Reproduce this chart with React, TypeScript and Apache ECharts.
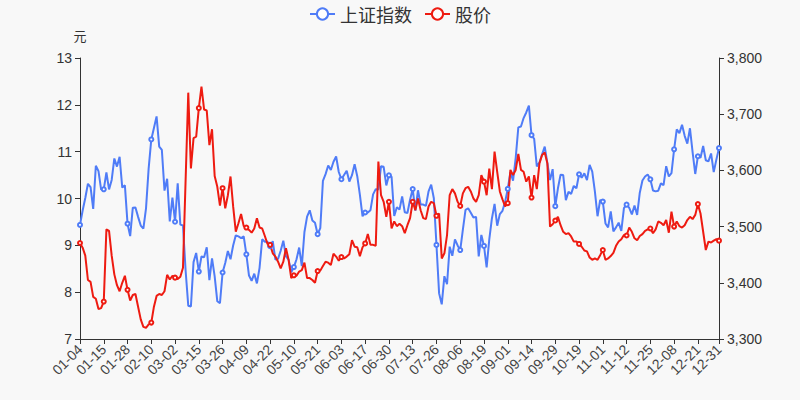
import React, { useEffect, useRef } from "react";
import * as echarts from "echarts";

const dates = [
  '01-04','01-05','01-06','01-07','01-08','01-11','01-12','01-13','01-14','01-15','01-18','01-19','01-20','01-21','01-22','01-25','01-26','01-27','01-28','01-29',
  '02-01','02-02','02-03','02-04','02-05','02-08','02-09','02-10','02-18','02-19','02-22','02-23','02-24','02-25','02-26',
  '03-01','03-02','03-03','03-04','03-05','03-08','03-09','03-10','03-11','03-12','03-15','03-16','03-17','03-18','03-19','03-22','03-23','03-24','03-25','03-26','03-29','03-30','03-31',
  '04-01','04-02','04-06','04-07','04-08','04-09','04-12','04-13','04-14','04-15','04-16','04-19','04-20','04-21','04-22','04-23','04-26','04-27','04-28','04-29','04-30',
  '05-06','05-07','05-10','05-11','05-12','05-13','05-14','05-17','05-18','05-19','05-20','05-21','05-24','05-25','05-26','05-27','05-28','05-31',
  '06-01','06-02','06-03','06-04','06-07','06-08','06-09','06-10','06-11','06-15','06-16','06-17','06-18','06-21','06-22','06-23','06-24','06-25','06-28','06-29','06-30',
  '07-01','07-02','07-05','07-06','07-07','07-08','07-09','07-12','07-13','07-14','07-15','07-16','07-19','07-20','07-21','07-22','07-23','07-26','07-27','07-28','07-29','07-30',
  '08-02','08-03','08-04','08-05','08-06','08-09','08-10','08-11','08-12','08-13','08-16','08-17','08-18','08-19','08-20','08-23','08-24','08-25','08-26','08-27','08-30','08-31',
  '09-01','09-02','09-03','09-06','09-07','09-08','09-09','09-10','09-13','09-14','09-15','09-16','09-17','09-22','09-23','09-24','09-27','09-28','09-29','09-30',
  '10-08','10-11','10-12','10-13','10-14','10-15','10-18','10-19','10-20','10-21','10-22','10-25','10-26','10-27','10-28','10-29',
  '11-01','11-02','11-03','11-04','11-05','11-08','11-09','11-10','11-11','11-12','11-15','11-16','11-17','11-18','11-19','11-22','11-23','11-24','11-25','11-26','11-29','11-30',
  '12-01','12-02','12-03','12-06','12-07','12-08','12-09','12-10','12-13','12-14','12-15','12-16','12-17','12-20','12-21','12-22','12-23','12-24','12-27','12-28','12-29','12-30','12-31'
];

const indexValues = [
  3502.96,3528.68,3550.88,3576.21,3570.11,3531.50,3608.34,3598.65,3565.90,3566.38,3596.22,3566.12,3583.09,3621.26,3606.75,3624.24,3569.43,3573.34,3505.18,3483.07,
  3533.68,3533.93,3517.31,3501.86,3496.33,3532.44,3603.49,3655.09,3675.36,3696.17,3642.44,3636.36,3564.08,3585.05,3509.08,
  3551.40,3508.59,3576.90,3503.49,3501.99,3421.41,3359.29,3357.74,3436.83,3453.08,3419.95,3446.73,3445.55,3463.07,3404.66,3443.44,3411.51,3367.06,3363.59,3418.33,3435.30,3456.68,3441.91,
  3466.33,3484.39,3482.48,3479.63,3482.55,3450.68,3412.95,3403.56,3416.15,3398.99,3426.62,3477.55,3472.94,3472.93,3465.11,3474.17,3441.17,3442.61,3457.07,3474.90,3446.86,
  3441.28,3418.87,3427.99,3441.85,3462.75,3429.54,3490.38,3517.62,3529.01,3510.96,3506.94,3486.56,3497.28,3581.34,3593.36,3608.85,3600.78,3615.48,
  3624.71,3597.14,3584.22,3591.84,3599.54,3580.11,3591.40,3610.86,3589.75,3556.56,3518.33,3525.10,3525.10,3529.18,3557.41,3566.65,3566.22,3607.56,3606.37,3573.18,3591.20,
  3588.78,3518.76,3534.32,3530.26,3553.72,3525.50,3524.09,3547.84,3566.73,3528.50,3564.59,3539.30,3539.12,3536.79,3562.70,3574.73,3550.40,3467.44,3381.18,3361.59,3411.72,3397.36,
  3464.29,3447.99,3477.22,3466.56,3458.23,3494.63,3529.93,3532.62,3524.74,3516.30,3517.34,3446.98,3485.29,3465.55,3427.33,3477.13,3514.47,3540.38,3501.66,3522.16,3528.15,3543.94,
  3567.10,3597.04,3581.73,3621.86,3676.59,3678.10,3693.13,3703.11,3715.37,3662.60,3656.22,3607.09,3613.97,3628.49,3642.22,3613.07,3582.83,3602.22,3536.29,3568.17,
  3592.17,3591.71,3546.94,3561.76,3558.28,3572.37,3568.14,3593.15,3587.00,3594.78,3582.60,3609.86,3597.64,3562.31,3518.42,3547.34,
  3544.48,3505.63,3498.54,3526.87,3491.57,3498.63,3507.00,3492.46,3532.79,3539.10,3533.30,3521.79,3537.37,3520.71,3560.37,3582.08,3589.09,3592.70,3584.18,3564.09,3562.70,3563.89,
  3576.89,3573.84,3607.43,3589.31,3595.09,3637.57,3673.04,3666.35,3681.08,3661.53,3647.63,3675.02,3632.36,3593.60,3625.13,3622.62,3643.34,3618.05,3615.97,3630.11,3597.00,3619.19,3639.78
];

const priceValues = [
  9.05,8.95,8.78,8.26,8.22,7.90,7.86,7.64,7.66,7.80,9.34,9.31,8.78,8.38,8.15,8.02,8.20,8.35,8.05,7.82,
  7.94,7.96,7.69,7.42,7.26,7.24,7.31,7.35,7.69,7.92,7.96,7.94,8.02,8.37,8.27,8.35,8.31,8.28,8.33,8.52,
  10.40,12.26,10.64,11.29,11.32,11.93,12.39,11.90,11.88,11.14,11.48,10.48,10.25,9.85,10.22,9.79,10.07,10.47,9.83,9.29,
  9.47,9.67,9.41,9.38,9.33,9.27,9.36,9.58,9.38,9.36,9.20,9.03,9.01,8.83,8.76,8.65,8.51,8.65,8.94,8.69,
  8.30,8.36,8.35,8.44,8.47,8.63,8.30,8.30,8.26,8.20,8.45,8.46,8.56,8.65,8.63,8.58,8.82,8.76,8.67,8.75,
  8.72,8.76,8.81,9.11,8.97,8.96,8.77,8.96,9.04,9.24,9.01,9.01,8.99,10.79,10.07,9.93,9.61,9.93,9.36,9.51,
  9.41,9.46,9.41,9.26,9.43,9.58,9.93,9.75,10.00,9.75,9.58,9.56,9.83,9.93,9.90,9.63,9.68,8.72,8.83,9.22,
  10.07,10.20,10.11,9.93,9.84,10.11,10.22,10.25,10.15,10.00,9.93,10.07,10.50,10.36,10.07,10.64,10.20,11.00,10.57,10.15,
  9.98,9.83,9.90,10.61,10.50,10.61,10.95,10.61,10.57,10.36,10.47,10.02,10.50,10.20,10.75,10.93,10.98,10.75,9.40,9.45,
  9.53,9.61,9.43,9.29,9.24,9.26,9.19,9.08,9.08,9.03,8.97,8.89,8.87,8.74,8.69,8.72,8.69,8.79,8.90,8.69,
  8.72,8.77,8.84,8.99,9.08,9.13,9.22,9.21,9.38,9.29,9.15,9.11,9.20,9.24,9.31,9.34,9.36,9.26,9.34,9.51,
  9.48,9.43,9.54,9.27,9.72,9.40,9.51,9.41,9.38,9.43,9.54,9.61,9.56,9.65,9.88,9.68,9.29,8.90,9.08,9.06,
  9.10,9.13,9.10
];

const seriesNames = ["上证指数", "股价"];
const FONT = '"Liberation Sans", Arial, "Noto Sans CJK SC", sans-serif';

export default function App() {
  const ref = useRef<HTMLDivElement>(null);
  useEffect(() => {
    if (!ref.current) return;
    const chart = echarts.init(ref.current, null, { renderer: "svg" });
    const last = dates.length - 1;
    const showIdx = (i: number) => i % 9 === 0 || i === last;
    chart.setOption({
      animation: false,
      backgroundColor: "#f8f8f8",
      textStyle: { fontFamily: FONT },
      legend: {
        top: 0,
        left: "center",
        itemWidth: 25,
        itemHeight: 14,
        itemGap: 12,
        textStyle: { fontSize: 18, color: "#333", fontFamily: '"Noto Sans CJK SC", sans-serif' },
        data: seriesNames,
      },
      grid: { left: 80, right: 81, top: 58, bottom: 61 },
      xAxis: {
        type: "category",
        boundaryGap: false,
        data: dates,
        axisLine: { show: true, lineStyle: { color: "#333" } },
        axisTick: { show: true, lineStyle: { color: "#333" } },
        axisLabel: { rotate: 45, interval: (i: number) => showIdx(i), fontSize: 14, color: "#444", margin: 8 },
        splitLine: { show: false },
      },
      yAxis: [
        {
          type: "value",
          name: "元",
          nameGap: 16,
          nameTextStyle: { fontSize: 13, color: "#333", fontFamily: '"Noto Sans CJK SC", sans-serif' },
          min: 7,
          max: 13,
          interval: 1,
          position: "left",
          axisLine: { show: true, lineStyle: { color: "#333" } },
          axisTick: { show: true, lineStyle: { color: "#333" } },
          axisLabel: { fontSize: 14, color: "#333" },
          splitLine: { show: false },
        },
        {
          type: "value",
          min: 3300,
          max: 3800,
          interval: 100,
          position: "right",
          axisLine: { show: true, lineStyle: { color: "#333" } },
          axisTick: { show: true, lineStyle: { color: "#333" } },
          axisLabel: { fontSize: 14, color: "#333" },
          splitLine: { show: false },
        },
      ],
      series: [
        {
          name: seriesNames[0],
          type: "line",
          yAxisIndex: 1,
          data: indexValues,
          symbol: "emptyCircle",
          symbolSize: 4,
          lineStyle: { width: 2, color: "#4f7cf7" },
          itemStyle: { color: "#4f7cf7" },
        },
        {
          name: seriesNames[1],
          type: "line",
          yAxisIndex: 0,
          data: priceValues,
          symbol: "emptyCircle",
          symbolSize: 4,
          lineStyle: { width: 2, color: "#ee1b11" },
          itemStyle: { color: "#ee1b11" },
        },
      ],
    });
    return () => chart.dispose();
  }, []);
  return (
    <div
      ref={ref}
      style={{ position: "fixed", left: 0, top: 0, width: 800, height: 400 }}
    />
  );
}
